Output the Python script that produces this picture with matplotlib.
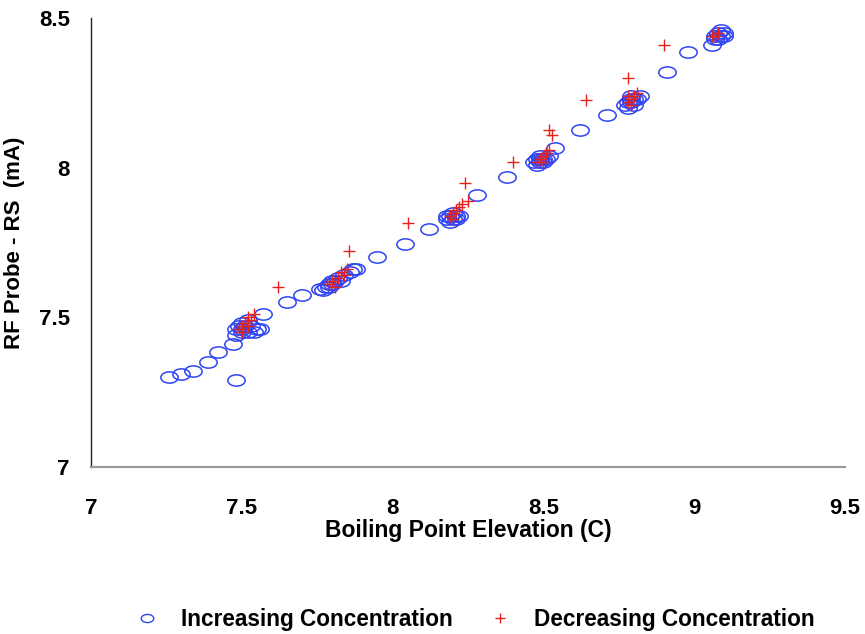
import numpy as np
import matplotlib.pyplot as plt
from matplotlib.path import Path
from matplotlib.lines import Line2D

plt.rcParams['font.family'] = ['Liberation Sans', 'DejaVu Sans']

# increasing concentration (blue circles)
inc_x = [7.26, 7.30, 7.34, 7.39, 7.42, 7.47, 7.48, 7.57, 7.56, 7.65, 7.70, 7.76,
         7.88, 7.95, 8.04, 8.12, 8.28, 8.38, 8.54, 8.62, 8.71, 8.91, 8.98, 9.06,
         # cluster ~7.5
         7.48, 7.50, 7.52, 7.54, 7.49, 7.51, 7.53, 7.50, 7.52, 7.48, 7.55, 7.50,
         # cluster ~7.8
         7.77, 7.78, 7.79, 7.80, 7.81, 7.80, 7.82, 7.84, 7.86, 7.87, 7.79, 7.83,
         # cluster ~8.2
         8.18, 8.19, 8.20, 8.21, 8.19, 8.20, 8.22, 8.21, 8.18,
         # cluster ~8.5
         8.47, 8.48, 8.49, 8.50, 8.49, 8.51, 8.48, 8.50, 8.52, 8.49,
         # cluster ~8.8
         8.77, 8.78, 8.79, 8.80, 8.79, 8.81, 8.78, 8.80, 8.82, 8.79,
         # cluster ~9.08
         9.07, 9.08, 9.09, 9.10, 9.08, 9.09, 9.07, 9.10]
inc_y = [7.30, 7.31, 7.32, 7.35, 7.385, 7.41, 7.29, 7.51, 7.46, 7.55, 7.575, 7.595,
         7.66, 7.70, 7.745, 7.795, 7.91, 7.97, 8.065, 8.125, 8.175, 8.32, 8.385, 8.41,
         7.44, 7.45, 7.45, 7.45, 7.47, 7.47, 7.47, 7.48, 7.49, 7.46, 7.46, 7.46,
         7.59, 7.60, 7.60, 7.61, 7.62, 7.62, 7.63, 7.64, 7.65, 7.66, 7.61, 7.62,
         7.83, 7.84, 7.83, 7.84, 7.82, 7.85, 7.84, 7.83, 7.84,
         8.02, 8.03, 8.02, 8.03, 8.04, 8.03, 8.01, 8.02, 8.04, 8.03,
         8.21, 8.22, 8.22, 8.23, 8.24, 8.23, 8.20, 8.21, 8.24, 8.23,
         8.44, 8.45, 8.44, 8.45, 8.43, 8.46, 8.43, 8.44]

# decreasing concentration (red crosses)
dec_x = [7.62, 7.855, 8.05, 8.24, 8.25, 8.40, 8.52, 8.53, 8.64, 8.78, 8.90,
         7.50, 7.51, 7.52, 7.53, 7.49, 7.54, 7.50, 7.52,
         7.79, 7.80, 7.82, 7.84, 7.81, 7.83, 7.85,
         8.19, 8.20, 8.21, 8.22, 8.20, 8.23,
         8.48, 8.49, 8.50, 8.51, 8.50, 8.52,
         8.78, 8.79, 8.80, 8.81, 8.79, 8.78,
         9.07, 9.08, 9.06]
dec_y = [7.60, 7.72, 7.815, 7.95, 7.89, 8.02, 8.125, 8.11, 8.225, 8.30, 8.41,
         7.47, 7.48, 7.50, 7.49, 7.46, 7.51, 7.45, 7.47,
         7.61, 7.62, 7.63, 7.64, 7.60, 7.65, 7.66,
         7.84, 7.85, 7.86, 7.87, 7.83, 7.88,
         8.02, 8.03, 8.04, 8.05, 8.02, 8.06,
         8.22, 8.23, 8.24, 8.25, 8.21, 8.24,
         8.44, 8.45, 8.44]

xticks = [7, 7.5, 8, 8.5, 9, 9.5]
xtick_labels = ['7', '7.5', '8', '8.5', '9', '9.5']
yticks = [7, 7.5, 8, 8.5]
ytick_labels = ['7', '7.5', '8', '8.5']

blue = '#2f45f5'
red = '#e8201a'

# flattened circle, the scan is stretched sideways
uc = Path.unit_circle()
ellipse = Path(uc.vertices * np.array([1.0, 0.65]), uc.codes)

fig = plt.figure(figsize=(8.65, 6.34), dpi=100)
ax = fig.add_axes([0.105, 0.263, 0.872, 0.709])

ax.plot(inc_x, inc_y, linestyle='none', marker=ellipse, markersize=12.5,
        mfc='none', mec=blue, mew=1.1)
ax.plot(dec_x, dec_y, linestyle='none', marker='+', markersize=9,
        color=red, mew=1.0)

ax.set_xlim(7, 9.5)
ax.set_ylim(7, 8.5)
ax.set_xticks(xticks)
ax.set_xticklabels(xtick_labels)
ax.set_yticks(yticks)
ax.set_yticklabels(ytick_labels)
ax.tick_params(axis='both', length=0, labelsize=16)
ax.tick_params(axis='x', pad=22)
ax.tick_params(axis='y', pad=15)
for lab in ax.get_xticklabels() + ax.get_yticklabels():
    lab.set_fontweight('bold')

ax.spines['top'].set_visible(False)
ax.spines['right'].set_visible(False)
ax.spines['left'].set_color('#222222')
ax.spines['left'].set_linewidth(1.0)
ax.spines['bottom'].set_color('#999999')
ax.spines['bottom'].set_linewidth(1.5)

ax.set_xlabel('Boiling Point Elevation (C)', fontsize=16.5, fontweight='bold', labelpad=0)
ax.set_ylabel('RF Probe - RS  (mA)', fontsize=16, fontweight='bold', labelpad=10)

handles = [Line2D([], [], linestyle='none', marker=ellipse, markersize=9, mfc='none',
                  mec=blue, mew=1.0),
           Line2D([], [], linestyle='none', marker='+', markersize=7, color=red, mew=1.0)]
fig.legend(handles, ['Increasing Concentration', 'Decreasing Concentration'],
           loc='lower center', bbox_to_anchor=(0.549, -0.028), ncol=2, frameon=False,
           prop={'size': 16.3, 'weight': 'bold'}, handlelength=1.0,
           handletextpad=1.0, columnspacing=1.6)

fig.savefig('out.png', dpi=100)
